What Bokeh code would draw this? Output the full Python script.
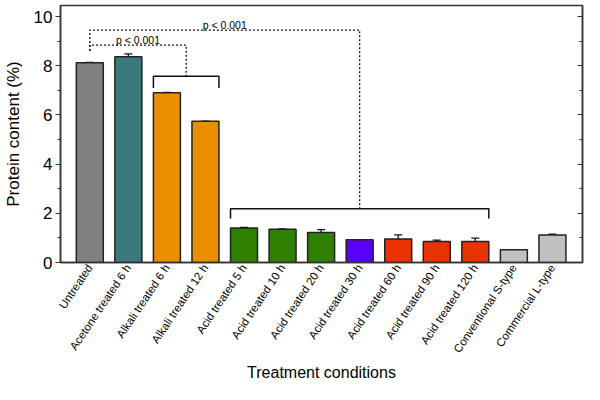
import numpy as np
from bokeh.plotting import figure
from bokeh.models import (ColumnDataSource, Range1d, LinearAxis, FixedTicker,
                          SingleIntervalTicker, Whisker, TeeHead)
from bokeh.embed import file_html
from bokeh.resources import INLINE
from bokeh.core.properties import value

# ---------------- data ----------------
categories = ["Untreated", "Acetone treated 6 h", "Alkali treated 6 h", "Alkali treated 12 h",
              "Acid treated 5 h", "Acid treated 10 h", "Acid treated 20 h", "Acid treated 30 h",
              "Acid treated 60 h", "Acid treated 90 h", "Acid treated 120 h",
              "Conventional S-type", "Commercial L-type"]
protein = [8.12, 8.37, 6.90, 5.74, 1.40, 1.35, 1.22, 0.93, 0.96, 0.85, 0.85, 0.52, 1.12]
errors = [0.02, 0.11, 0.02, 0.01, 0.03, 0.02, 0.12, 0.0, 0.16, 0.06, 0.14, 0.0, 0.03]
bar_colors = ["#808080", "#3b7a7c", "#e88e00", "#e88e00", "#2f7f00", "#2f7f00", "#2f7f00",
              "#5a00ff", "#e83200", "#e83200", "#e83200", "#c0c0c0", "#c0c0c0"]

# bracket groups: (first index, last index), bracket top, leg bottom
bracket_groups = [(2, 3), (4, 10)]
bracket_tops = [7.57, 2.19]
bracket_legs = [7.10, 1.79]
# comparisons from the untreated bar
ref_index = 0
ref_start = 8.60
comp_tops = [8.84, 9.45]
comp_labels = ["p < 0.001", "p < 0.001"]

y_tick_values = [0, 2, 4, 6, 8, 10]
FONT = "Liberation Sans"
BAR_W = 0.7

x = list(range(len(categories)))

p = figure(width=584, height=384, output_backend="svg", toolbar_location=None,
           x_range=Range1d(-0.76, 12.78), y_range=Range1d(0, 10.45),
           min_border_left=50, min_border_right=2, min_border_top=5, min_border_bottom=108)
p.xgrid.visible = False
p.ygrid.visible = False
p.outline_line_color = "#333333"
p.outline_line_width = 1.5
p.background_fill_color = "white"

src = ColumnDataSource(dict(x=x, top=protein, color=bar_colors))
p.vbar(x="x", top="top", bottom=0, width=BAR_W, fill_color="color",
       line_color="#222222", line_width=1.5, source=src)

ex = [xi for xi, e in zip(x, errors) if e > 0]
eu = [v + e for v, e in zip(protein, errors) if e > 0]
el = [v - e for v, e in zip(protein, errors) if e > 0]
esrc = ColumnDataSource(dict(x=ex, upper=eu, lower=el))
w = Whisker(source=esrc, base="x", upper="upper", lower="lower", dimension="height",
            line_color="#111111", line_width=1.3,
            upper_head=TeeHead(size=8, line_color="#111111", line_width=1.3),
            lower_head=TeeHead(size=8, line_color="#111111", line_width=1.3))
p.add_layout(w)

# brackets
bxs, bys = [], []
for (i0, i1), t, l in zip(bracket_groups, bracket_tops, bracket_legs):
    a = i0 - BAR_W / 2
    b = i1 + BAR_W / 2
    bxs.append([a, a, b, b])
    bys.append([l, t, t, l])
p.multi_line(bxs, bys, line_color="#111111", line_width=1.5)

# dotted connectors
dxs, dys, lx, ly = [], [], [], []
for (i0, i1), bt, ct in zip(bracket_groups, bracket_tops, comp_tops):
    mid = (i0 + i1) / 2
    dxs.append([ref_index, ref_index, mid, mid])
    dys.append([ref_start, ct, ct, bt])
    lx.append((ref_index + mid) / 2)
    ly.append(ct + 0.19)
p.multi_line(dxs, dys, line_color="#111111", line_width=1.3, line_dash="2 2")
p.text(x=lx, y=ly, text=comp_labels, text_font=value(FONT), text_font_size="10.5px",
       text_align="center", text_baseline="alphabetic", text_color="black")

# axes
p.yaxis.ticker = FixedTicker(ticks=y_tick_values, minor_ticks=[1, 3, 5, 7, 9])
p.yaxis.axis_label = "Protein content (%)"
for ax in p.yaxis:
    ax.axis_label_text_font = FONT
    ax.axis_label_text_font_size = "17px"
    ax.axis_label_text_font_style = "normal"
    ax.axis_label_text_color = "black"
    ax.axis_label_standoff = 8
    ax.major_label_text_font = FONT
    ax.major_label_text_font_size = "17px"
    ax.major_label_text_color = "black"
    ax.major_label_standoff = 3
    ax.major_tick_out = 5
    ax.major_tick_in = 0
    ax.minor_tick_out = 3
    ax.minor_tick_in = 0
    ax.axis_line_width = 1.5
    ax.axis_line_color = "#333333"
    ax.major_tick_line_color = "#333333"
    ax.minor_tick_line_color = "#333333"

ra = LinearAxis(ticker=FixedTicker(ticks=y_tick_values, minor_ticks=[1, 3, 5, 7, 9]),
                major_label_overrides={v: "" for v in y_tick_values},
                major_label_standoff=0,
                major_tick_in=5, major_tick_out=0, minor_tick_in=3, minor_tick_out=0,
                axis_line_width=1.5, axis_line_color="#333333",
                major_tick_line_color="#333333", minor_tick_line_color="#333333")
p.add_layout(ra, "right")

p.xaxis.ticker = FixedTicker(ticks=x)
p.xaxis.major_label_overrides = {i: c for i, c in zip(x, categories)}
p.xaxis.axis_label = "Treatment conditions"
for ax in p.xaxis:
    ax.major_label_orientation = 0.98
    ax.major_label_text_font = FONT
    ax.major_label_text_font_size = "11.5px"
    ax.major_label_text_color = "black"
    ax.major_label_standoff = 3
    ax.major_tick_out = 0
    ax.major_tick_in = 0
    ax.minor_tick_out = 0
    ax.minor_tick_in = 0
    ax.axis_line_width = 1.5
    ax.axis_line_color = "#333333"
    ax.axis_label_text_font = FONT
    ax.axis_label_text_font_size = "16px"
    ax.axis_label_text_font_style = "normal"
    ax.axis_label_text_color = "black"
    ax.axis_label_standoff = 3

open("out.html", "w").write(file_html(p, INLINE))
